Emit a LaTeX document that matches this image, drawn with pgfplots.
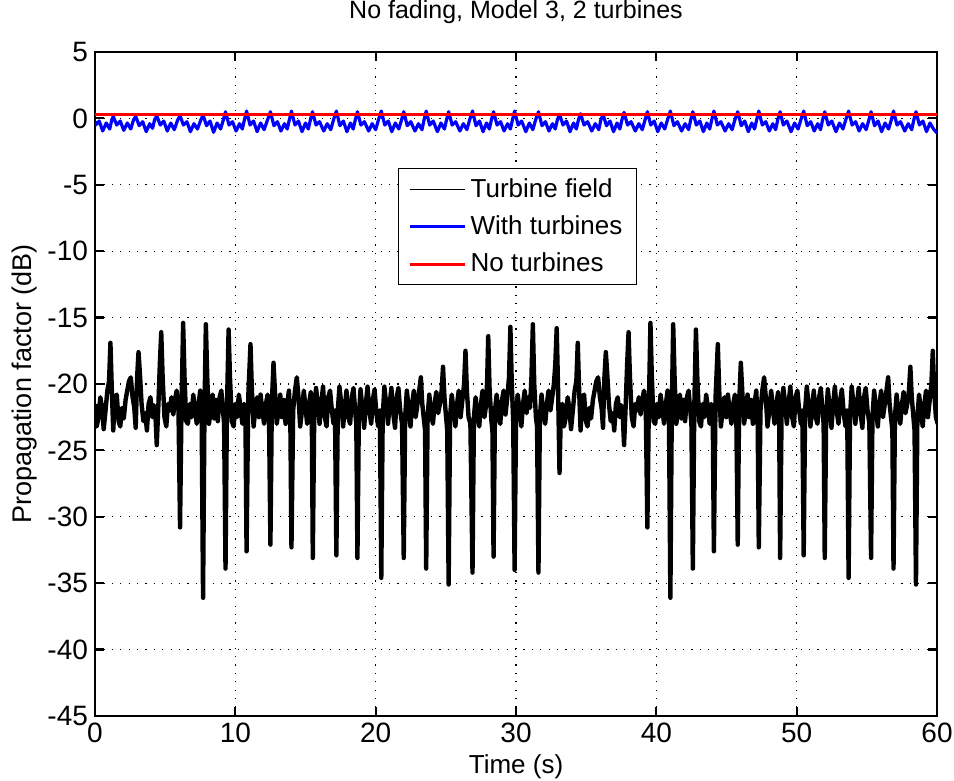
\documentclass[border=0pt]{standalone}
\usepackage{fontspec}
\setmainfont{Liberation Sans}
\usepackage{pgfplots}
\pgfplotsset{compat=1.18}
\begin{document}
\begin{tikzpicture}
\begin{axis}[
  scale only axis, width=421pt, height=332pt,
  xmin=0, xmax=60, ymin=-45, ymax=5,
  xtick={0,10,...,60}, ytick={-45,-40,...,5},
  tick align=inside, major tick length=4.5pt,
  axis line style={line width=1.2pt},
  every tick/.style={black, line width=1.1pt},
  grid=major,
  major grid style={black, line width=0.6pt, dash pattern=on 0.6pt off 3.6pt},
  /pgf/number format/assume math mode=true,
  tick label style={font=\fontsize{14}{16}\selectfont},
  title={No fading, Model 3, 2 turbines},
  title style={at={(0.5,1)}, anchor=base, yshift=10.5pt, font=\fontsize{12.5}{15}\selectfont},
  xlabel={Time (s)},
  xlabel style={at={(axis description cs:0.5,0)}, anchor=base, yshift=-29pt, font=\fontsize{13}{15}\selectfont},
  ylabel={Propagation factor (dB)},
  ylabel style={at={(axis description cs:-0.0758,0.5)}, anchor=base, rotate=0, font=\fontsize{13.5}{15}\selectfont},
  legend cell align=left,
  legend style={at={(axis cs:21.6,-3.73)}, anchor=north west, draw=black, line width=0.5pt,
    font=\fontsize{13}{15}\selectfont, row sep=3.75pt, inner xsep=5pt, inner ysep=3pt},
  legend image code/.code={\draw[#1] (0pt,0pt) -- (27.5pt,0pt);},
]
\addplot[black, line width=2.2pt, line join=round, forget plot] coordinates {
(0,-21.5)(0.12,-23.2)(0.25,-22.5)(0.38,-21.0)(0.5,-21.8)(0.62,-23.4)(0.75,-22.0)(0.88,-20.5)(1.0,-19.8)(1.1,-16.9)(1.2,-20.5)(1.3,-23.5)(1.42,-21.0)(1.55,-20.8)(1.68,-22.8)(1.8,-23.2)(1.92,-21.8)(2.05,-22.6)(2.18,-21.2)(2.3,-20.5)(2.42,-19.8)(2.55,-19.5)(2.68,-21.0)(2.8,-21.8)(2.9,-23.3)(3.0,-19.5)(3.1,-17.6)(3.2,-19.2)(3.32,-21.5)(3.45,-22.8)(3.58,-22.2)(3.7,-23.5)(3.82,-21.5)(3.95,-21.0)(4.08,-22.5)(4.2,-21.6)(4.3,-22.2)(4.4,-24.6)(4.52,-21.5)(4.62,-18.5)(4.72,-16.1)(4.82,-19.5)(4.95,-22.5)(5.08,-23.2)(5.2,-21.5)(5.32,-22.0)(5.45,-21.0)(5.58,-22.3)(5.7,-21.2)(5.82,-20.5)(5.95,-22.0)(6.06,-30.8)(6.16,-22.0)(6.28,-15.4)(6.38,-19.5)(6.5,-22.8)
(6.62,-23.0)(6.75,-21.5)(6.88,-22.5)(7.0,-20.8)(7.12,-21.8)(7.25,-23.0)(7.38,-21.5)(7.5,-20.5)(7.6,-22.5)(7.7,-36.1)(7.8,-22.0)(7.9,-15.5)(8.0,-19.5)(8.12,-23.0)(8.25,-22.0)(8.38,-20.8)(8.5,-22.6)(8.62,-21.2)(8.75,-22.8)(8.88,-21.0)(9.0,-20.5)(9.12,-22.0)(9.2,-23.0)(9.3,-33.9)(9.4,-22.0)(9.52,-15.9)(9.62,-19.5)(9.75,-22.8)(9.88,-23.2)(10.0,-21.5)(10.12,-22.5)(10.25,-20.8)(10.38,-21.8)(10.5,-23.0)(10.62,-21.5)(10.72,-22.5)(10.8,-32.6)(10.92,-21.0)(11.08,-17.0)(11.18,-20.5)(11.3,-23.2)(11.42,-22.0)(11.55,-21.0)(11.68,-22.5)(11.8,-20.8)(11.92,-22.0)(12.05,-23.0)(12.18,-21.5)(12.3,-20.8)(12.4,-22.5)(12.5,-32.1)(12.6,-21.5)(12.72,-18.4)(12.82,-20.5)(12.95,-23.0)(13.08,-22.0)(13.2,-20.8)(13.32,-22.5)(13.45,-21.2)(13.58,-23.0)(13.7,-21.5)(13.82,-20.5)(13.92,-22.8)(14.0,-32.3)(14.12,-22.0)(14.25,-20.5)(14.38,-19.5)(14.5,-21.0)(14.62,-23.2)(14.75,-22.0)(14.88,-20.5)(15.0,-21.8)(15.12,-23.0)(15.25,-21.5)(15.38,-20.6)(15.45,-22.5)(15.52,-33.1)(15.62,-22.5)(15.75,-20.3)(15.88,-21.5)(16.0,-23.0)(16.12,-21.5)(16.25,-20.2)(16.38,-22.5)(16.5,-23.2)(16.62,-21.0)(16.75,-20.5)(16.88,-22.0)(17.0,-23.0)(17.1,-22.0)(17.2,-32.9)(17.3,-22.0)(17.42,-20.2)(17.55,-21.5)(17.68,-23.2)(17.8,-21.8)(17.92,-20.5)(18.05,-22.5)(18.18,-23.0)(18.3,-21.0)(18.42,-20.3)(18.55,-22.2)(18.62,-23.0)(18.7,-33.1)(18.8,-22.5)(18.92,-20.4)(19.05,-21.8)(19.18,-23.3)(19.3,-21.5)(19.42,-20.2)(19.55,-22.0)(19.68,-23.0)(19.8,-21.2)(19.92,-20.4)(20.05,-22.2)(20.18,-23.2)(20.3,-22.0)(20.4,-34.6)(20.5,-22.5)(20.62,-20.2)(20.75,-21.5)(20.88,-23.0)(21.0,-21.5)(21.12,-20.3)(21.25,-22.2)(21.38,-23.3)(21.5,-21.0)(21.62,-20.3)(21.75,-22.0)(21.88,-23.0)(22.0,-33.1)(22.1,-22.5)(22.22,-20.5)(22.35,-21.8)(22.48,-23.2)(22.6,-21.5)(22.72,-20.5)(22.85,-22.5)(22.98,-21.5)(23.1,-20.5)(23.22,-19.5)(23.32,-21.5)(23.45,-22.8)(23.52,-23.5)(23.6,-33.9)(23.7,-22.5)(23.82,-20.8)(23.95,-22.2)(24.08,-23.0)(24.2,-21.5)(24.32,-20.6)(24.45,-22.2)(24.58,-21.5)(24.7,-20.5)(24.8,-18.7)(24.9,-21.0)(25.02,-22.5)(25.1,-23.5)(25.2,-35.1)(25.3,-22.5)(25.42,-20.8)(25.55,-22.0)(25.68,-23.2)(25.8,-21.5)(25.92,-20.5)(26.05,-22.5)(26.18,-21.2)(26.3,-20.0)(26.4,-17.5)(26.5,-20.5)(26.62,-22.5)(26.75,-23.0)(26.9,-34.2)(27.0,-22.5)(27.12,-21.0)(27.25,-22.3)(27.38,-23.2)(27.5,-21.5)(27.62,-20.5)(27.75,-22.5)(27.88,-21.5)(27.95,-19.5)(28.02,-16.4)(28.12,-20.5)(28.25,-22.8)(28.32,-23.5)(28.4,-33.0)(28.5,-22.0)(28.62,-20.8)(28.75,-22.5)(28.88,-23.0)(29.0,-21.2)(29.12,-20.5)(29.25,-22.3)(29.38,-21.0)(29.5,-19.5)(29.6,-15.7)(29.7,-20.0)(29.8,-22.8)(29.9,-34.0)(30.0,-22.5)(30.12,-20.8)(30.25,-22.0)(30.38,-23.2)(30.5,-21.5)(30.62,-20.5)(30.75,-22.2)(30.88,-21.0)(31.0,-21.8)(31.1,-19.5)(31.2,-15.5)(31.3,-20.0)(31.42,-22.5)(31.5,-23.2)(31.6,-34.2)(31.7,-22.5)(31.82,-20.8)(31.95,-22.2)(32.08,-23.0)(32.2,-21.5)(32.32,-20.5)(32.45,-22.0)(32.58,-21.0)(32.7,-20.0)(32.8,-18.5)(32.9,-15.8)(33.0,-20.5)(33.1,-26.7)(33.2,-22.0)
(33.3,-21.5)(33.42,-23.2)(33.55,-22.5)(33.68,-21.0)(33.8,-21.8)(33.92,-23.4)(34.05,-22.0)(34.18,-20.5)(34.3,-19.8)(34.4,-16.9)(34.5,-20.5)(34.6,-23.5)(34.72,-21.0)(34.85,-20.8)(34.98,-22.8)(35.1,-23.2)(35.22,-21.8)(35.35,-22.6)(35.48,-21.2)(35.6,-20.5)(35.72,-19.8)(35.85,-19.5)(35.98,-21.0)(36.1,-21.8)(36.2,-23.3)(36.3,-19.5)(36.4,-17.6)(36.5,-19.2)(36.62,-21.5)(36.75,-22.8)(36.88,-22.2)(37.0,-23.5)(37.12,-21.5)(37.25,-21.0)(37.38,-22.5)(37.5,-21.6)(37.6,-22.2)(37.7,-24.6)(37.82,-21.5)(37.92,-18.5)(38.02,-16.1)(38.12,-19.5)(38.25,-22.5)(38.38,-23.2)(38.5,-21.5)(38.62,-22.0)(38.75,-21.0)(38.88,-22.3)(39.0,-21.2)(39.12,-20.5)(39.25,-22.0)(39.36,-30.8)(39.46,-22.0)(39.58,-15.4)(39.68,-19.5)(39.8,-22.8)
(39.92,-23.0)(40.05,-21.5)(40.18,-22.5)(40.3,-20.8)(40.42,-21.8)(40.55,-23.0)(40.68,-21.5)(40.8,-20.5)(40.9,-22.5)(41.0,-36.1)(41.1,-22.0)(41.2,-15.5)(41.3,-19.5)(41.42,-23.0)(41.55,-22.0)(41.68,-20.8)(41.8,-22.6)(41.92,-21.2)(42.05,-22.8)(42.18,-21.0)(42.3,-20.5)(42.42,-22.0)(42.5,-23.0)(42.6,-33.9)(42.7,-22.0)(42.82,-15.9)(42.92,-19.5)(43.05,-22.8)(43.18,-23.2)(43.3,-21.5)(43.42,-22.5)(43.55,-20.8)(43.68,-21.8)(43.8,-23.0)(43.92,-21.5)(44.02,-22.5)(44.1,-32.6)(44.22,-21.0)(44.38,-17.0)(44.48,-20.5)(44.6,-23.2)(44.72,-22.0)(44.85,-21.0)(44.98,-22.5)(45.1,-20.8)(45.22,-22.0)(45.35,-23.0)(45.48,-21.5)(45.6,-20.8)(45.7,-22.5)(45.8,-32.1)(45.9,-21.5)(46.02,-18.4)(46.12,-20.5)(46.25,-23.0)(46.38,-22.0)(46.5,-20.8)(46.62,-22.5)(46.75,-21.2)(46.88,-23.0)(47.0,-21.5)(47.12,-20.5)(47.22,-22.8)(47.3,-32.3)(47.42,-22.0)(47.55,-20.5)(47.68,-19.5)(47.8,-21.0)(47.92,-23.2)(48.05,-22.0)(48.18,-20.5)(48.3,-21.8)(48.42,-23.0)(48.55,-21.5)(48.68,-20.6)(48.75,-22.5)(48.82,-33.1)(48.92,-22.5)(49.05,-20.3)(49.18,-21.5)(49.3,-23.0)(49.42,-21.5)(49.55,-20.2)(49.68,-22.5)(49.8,-23.2)(49.92,-21.0)(50.05,-20.5)(50.18,-22.0)(50.3,-23.0)(50.4,-22.0)(50.5,-32.9)(50.6,-22.0)(50.72,-20.2)(50.85,-21.5)(50.98,-23.2)(51.1,-21.8)(51.22,-20.5)(51.35,-22.5)(51.48,-23.0)(51.6,-21.0)(51.72,-20.3)(51.85,-22.2)(51.92,-23.0)(52.0,-33.1)(52.1,-22.5)(52.22,-20.4)(52.35,-21.8)(52.48,-23.3)(52.6,-21.5)(52.72,-20.2)(52.85,-22.0)(52.98,-23.0)(53.1,-21.2)(53.22,-20.4)(53.35,-22.2)(53.48,-23.2)(53.6,-22.0)(53.7,-34.6)(53.8,-22.5)(53.92,-20.2)(54.05,-21.5)(54.18,-23.0)(54.3,-21.5)(54.42,-20.3)(54.55,-22.2)(54.68,-23.3)(54.8,-21.0)(54.92,-20.3)(55.05,-22.0)(55.18,-23.0)(55.3,-33.1)(55.4,-22.5)(55.52,-20.5)(55.65,-21.8)(55.78,-23.2)(55.9,-21.5)(56.02,-20.5)(56.15,-22.5)(56.28,-21.5)(56.4,-20.5)(56.52,-19.5)(56.62,-21.5)(56.75,-22.8)(56.82,-23.5)(56.9,-33.9)(57.0,-22.5)(57.12,-20.8)(57.25,-22.2)(57.38,-23.0)(57.5,-21.5)(57.62,-20.6)(57.75,-22.2)(57.88,-21.5)(58.0,-20.5)(58.1,-18.7)(58.2,-21.0)(58.32,-22.5)(58.4,-23.5)(58.5,-35.1)(58.6,-22.5)(58.72,-20.8)(58.85,-22.0)(58.98,-23.2)(59.1,-21.5)(59.22,-20.5)(59.35,-22.5)(59.48,-21.2)(59.6,-20.0)(59.7,-17.5)(59.8,-20.5)(59.92,-22.5)(60.05,-23.0)
};
\addplot[blue, line width=1.6pt, line join=round, forget plot] coordinates {
(0,-0.2)(0.05,-0.5)(0.3,-0.2)(0.55,-0.95)(0.8,-0.35)(1.05,-0.8)(1.2,-0.1)
(1.3,0.15)(1.55,-0.5)(1.8,-0.2)(2.05,-0.9)(2.3,-0.35)(2.55,-0.8)(2.75,-0.1)
(2.9,0.15)(3.15,-0.55)(3.4,-0.25)(3.65,-1.0)(3.9,-0.4)(4.1,-0.75)(4.25,-0.1)
(4.4,0.2)(4.65,-0.5)(4.9,-0.2)(5.15,-0.95)(5.4,-0.35)(5.65,-0.85)(5.9,-0.1)
(6.06,0.2)(6.3,-0.5)(6.55,-0.25)(6.8,-1.0)(7.05,-0.4)(7.3,-0.8)(7.55,-0.1)
(7.7,0.25)(7.95,-0.55)(8.2,-0.2)(8.45,-1.05)(8.7,-0.35)(8.95,-0.8)(9.15,-0.1)
(9.3,0.5)(9.55,-0.5)(9.8,-0.25)(10.05,-0.95)(10.3,-0.4)(10.5,-0.8)(10.65,-0.1)
(10.8,0.55)(11.05,-0.5)(11.3,-0.2)(11.55,-1.0)(11.8,-0.35)(12.05,-0.85)(12.3,-0.1)
(12.5,0.5)(12.75,-0.55)(13.0,-0.25)(13.25,-0.95)(13.5,-0.4)(13.7,-0.8)(13.85,-0.1)
(14.0,0.55)(14.25,-0.5)(14.5,-0.2)(14.75,-1.0)(15.0,-0.35)(15.2,-0.8)(15.35,-0.1)
(15.5,0.5)(15.75,-0.5)(16.0,-0.25)(16.3,-0.95)(16.55,-0.4)(16.8,-0.85)(17.0,-0.1)
(17.2,0.55)(17.45,-0.55)(17.7,-0.2)(17.95,-1.0)(18.2,-0.35)(18.4,-0.8)(18.55,-0.1)
(18.7,0.5)(18.95,-0.5)(19.2,-0.25)(19.5,-0.95)(19.75,-0.4)(20.0,-0.85)(20.2,-0.1)
(20.4,0.55)(20.65,-0.5)(20.9,-0.2)(21.15,-1.0)(21.4,-0.35)(21.65,-0.8)(21.85,-0.1)
(22.0,0.5)(22.25,-0.55)(22.5,-0.25)(22.8,-0.95)(23.05,-0.4)(23.3,-0.85)(23.45,-0.1)
(23.6,0.55)(23.85,-0.5)(24.1,-0.2)(24.4,-1.0)(24.65,-0.35)(24.9,-0.8)(25.05,-0.1)
(25.2,0.5)(25.45,-0.5)(25.7,-0.25)(26.0,-0.95)(26.25,-0.4)(26.5,-0.85)(26.7,-0.1)
(26.9,0.55)(27.15,-0.55)(27.4,-0.2)(27.65,-1.0)(27.9,-0.35)(28.1,-0.8)(28.25,-0.1)
(28.4,0.5)(28.65,-0.5)(28.9,-0.25)(29.15,-0.95)(29.4,-0.4)(29.6,-0.8)(29.75,-0.1)
(29.9,0.55)(30.15,-0.5)(30.4,-0.2)(30.7,-1.0)(30.95,-0.35)(31.2,-0.85)(31.4,-0.1)
(31.6,0.5)(31.85,-0.55)(32.1,-0.25)(32.35,-0.95)(32.6,-0.4)(32.8,-0.8)(32.95,-0.1)
(33.1,0.3)(33.35,-0.5)(33.6,-0.2)(33.85,-1.0)(34.1,-0.35)(34.3,-0.8)(34.45,-0.1)
(34.6,0.35)(34.85,-0.5)(35.1,-0.25)(35.4,-0.95)(35.65,-0.4)(35.9,-0.85)(36.05,-0.1)
(36.2,0.3)(36.45,-0.55)(36.7,-0.2)(36.95,-1.0)(37.2,-0.35)(37.4,-0.8)(37.55,-0.1)
(37.7,0.45)(37.95,-0.5)(38.2,-0.25)(38.5,-0.95)(38.75,-0.4)(39.0,-0.85)(39.2,-0.1)
(39.36,0.5)(39.6,-0.5)(39.85,-0.2)(40.1,-1.0)(40.35,-0.35)(40.6,-0.8)(40.8,-0.1)
(41.0,0.55)(41.25,-0.55)(41.5,-0.25)(41.8,-0.95)(42.05,-0.4)(42.3,-0.85)(42.45,-0.1)
(42.6,0.5)(42.85,-0.5)(43.1,-0.2)(43.35,-1.0)(43.6,-0.35)(43.8,-0.8)(43.95,-0.1)
(44.1,0.55)(44.35,-0.5)(44.6,-0.25)(44.9,-0.95)(45.15,-0.4)(45.4,-0.85)(45.6,-0.1)
(45.8,0.5)(46.05,-0.55)(46.3,-0.2)(46.55,-1.0)(46.8,-0.35)(47.0,-0.8)(47.15,-0.1)
(47.3,0.55)(47.55,-0.5)(47.8,-0.25)(48.05,-0.95)(48.3,-0.4)(48.5,-0.85)(48.65,-0.1)
(48.82,0.5)(49.05,-0.5)(49.3,-0.2)(49.6,-1.0)(49.85,-0.35)(50.1,-0.8)(50.3,-0.1)
(50.5,0.55)(50.75,-0.55)(51.0,-0.25)(51.25,-0.95)(51.5,-0.4)(51.7,-0.85)(51.85,-0.1)
(52.0,0.5)(52.25,-0.5)(52.5,-0.2)(52.8,-1.0)(53.05,-0.35)(53.3,-0.8)(53.5,-0.1)
(53.7,0.55)(53.95,-0.5)(54.2,-0.25)(54.45,-0.95)(54.7,-0.4)(54.95,-0.85)(55.15,-0.1)
(55.3,0.5)(55.55,-0.55)(55.8,-0.2)(56.05,-1.0)(56.3,-0.35)(56.55,-0.8)(56.75,-0.1)
(56.9,0.55)(57.15,-0.5)(57.4,-0.25)(57.7,-0.95)(57.95,-0.4)(58.2,-0.85)(58.35,-0.1)
(58.5,0.5)(58.75,-0.5)(59.0,-0.2)(59.25,-1.0)(59.5,-0.35)(59.75,-0.8)(60.0,-1.1)
};
\addplot[red, line width=1.5pt, forget plot] coordinates {(0,0.3)(60,0.3)};
\addlegendimage{black, line width=0.5pt}
\addlegendentry{Turbine field}
\addlegendimage{blue, line width=1.5pt}
\addlegendentry{With turbines}
\addlegendimage{red, line width=1.5pt}
\addlegendentry{No turbines}
\end{axis}
\pgfresetboundingbox
\path[use as bounding box] ([xshift=-47.5pt,yshift=-32.5pt]current axis.south west) rectangle ([xshift=8.5pt,yshift=26pt]current axis.north east);
\end{tikzpicture}
\end{document}
